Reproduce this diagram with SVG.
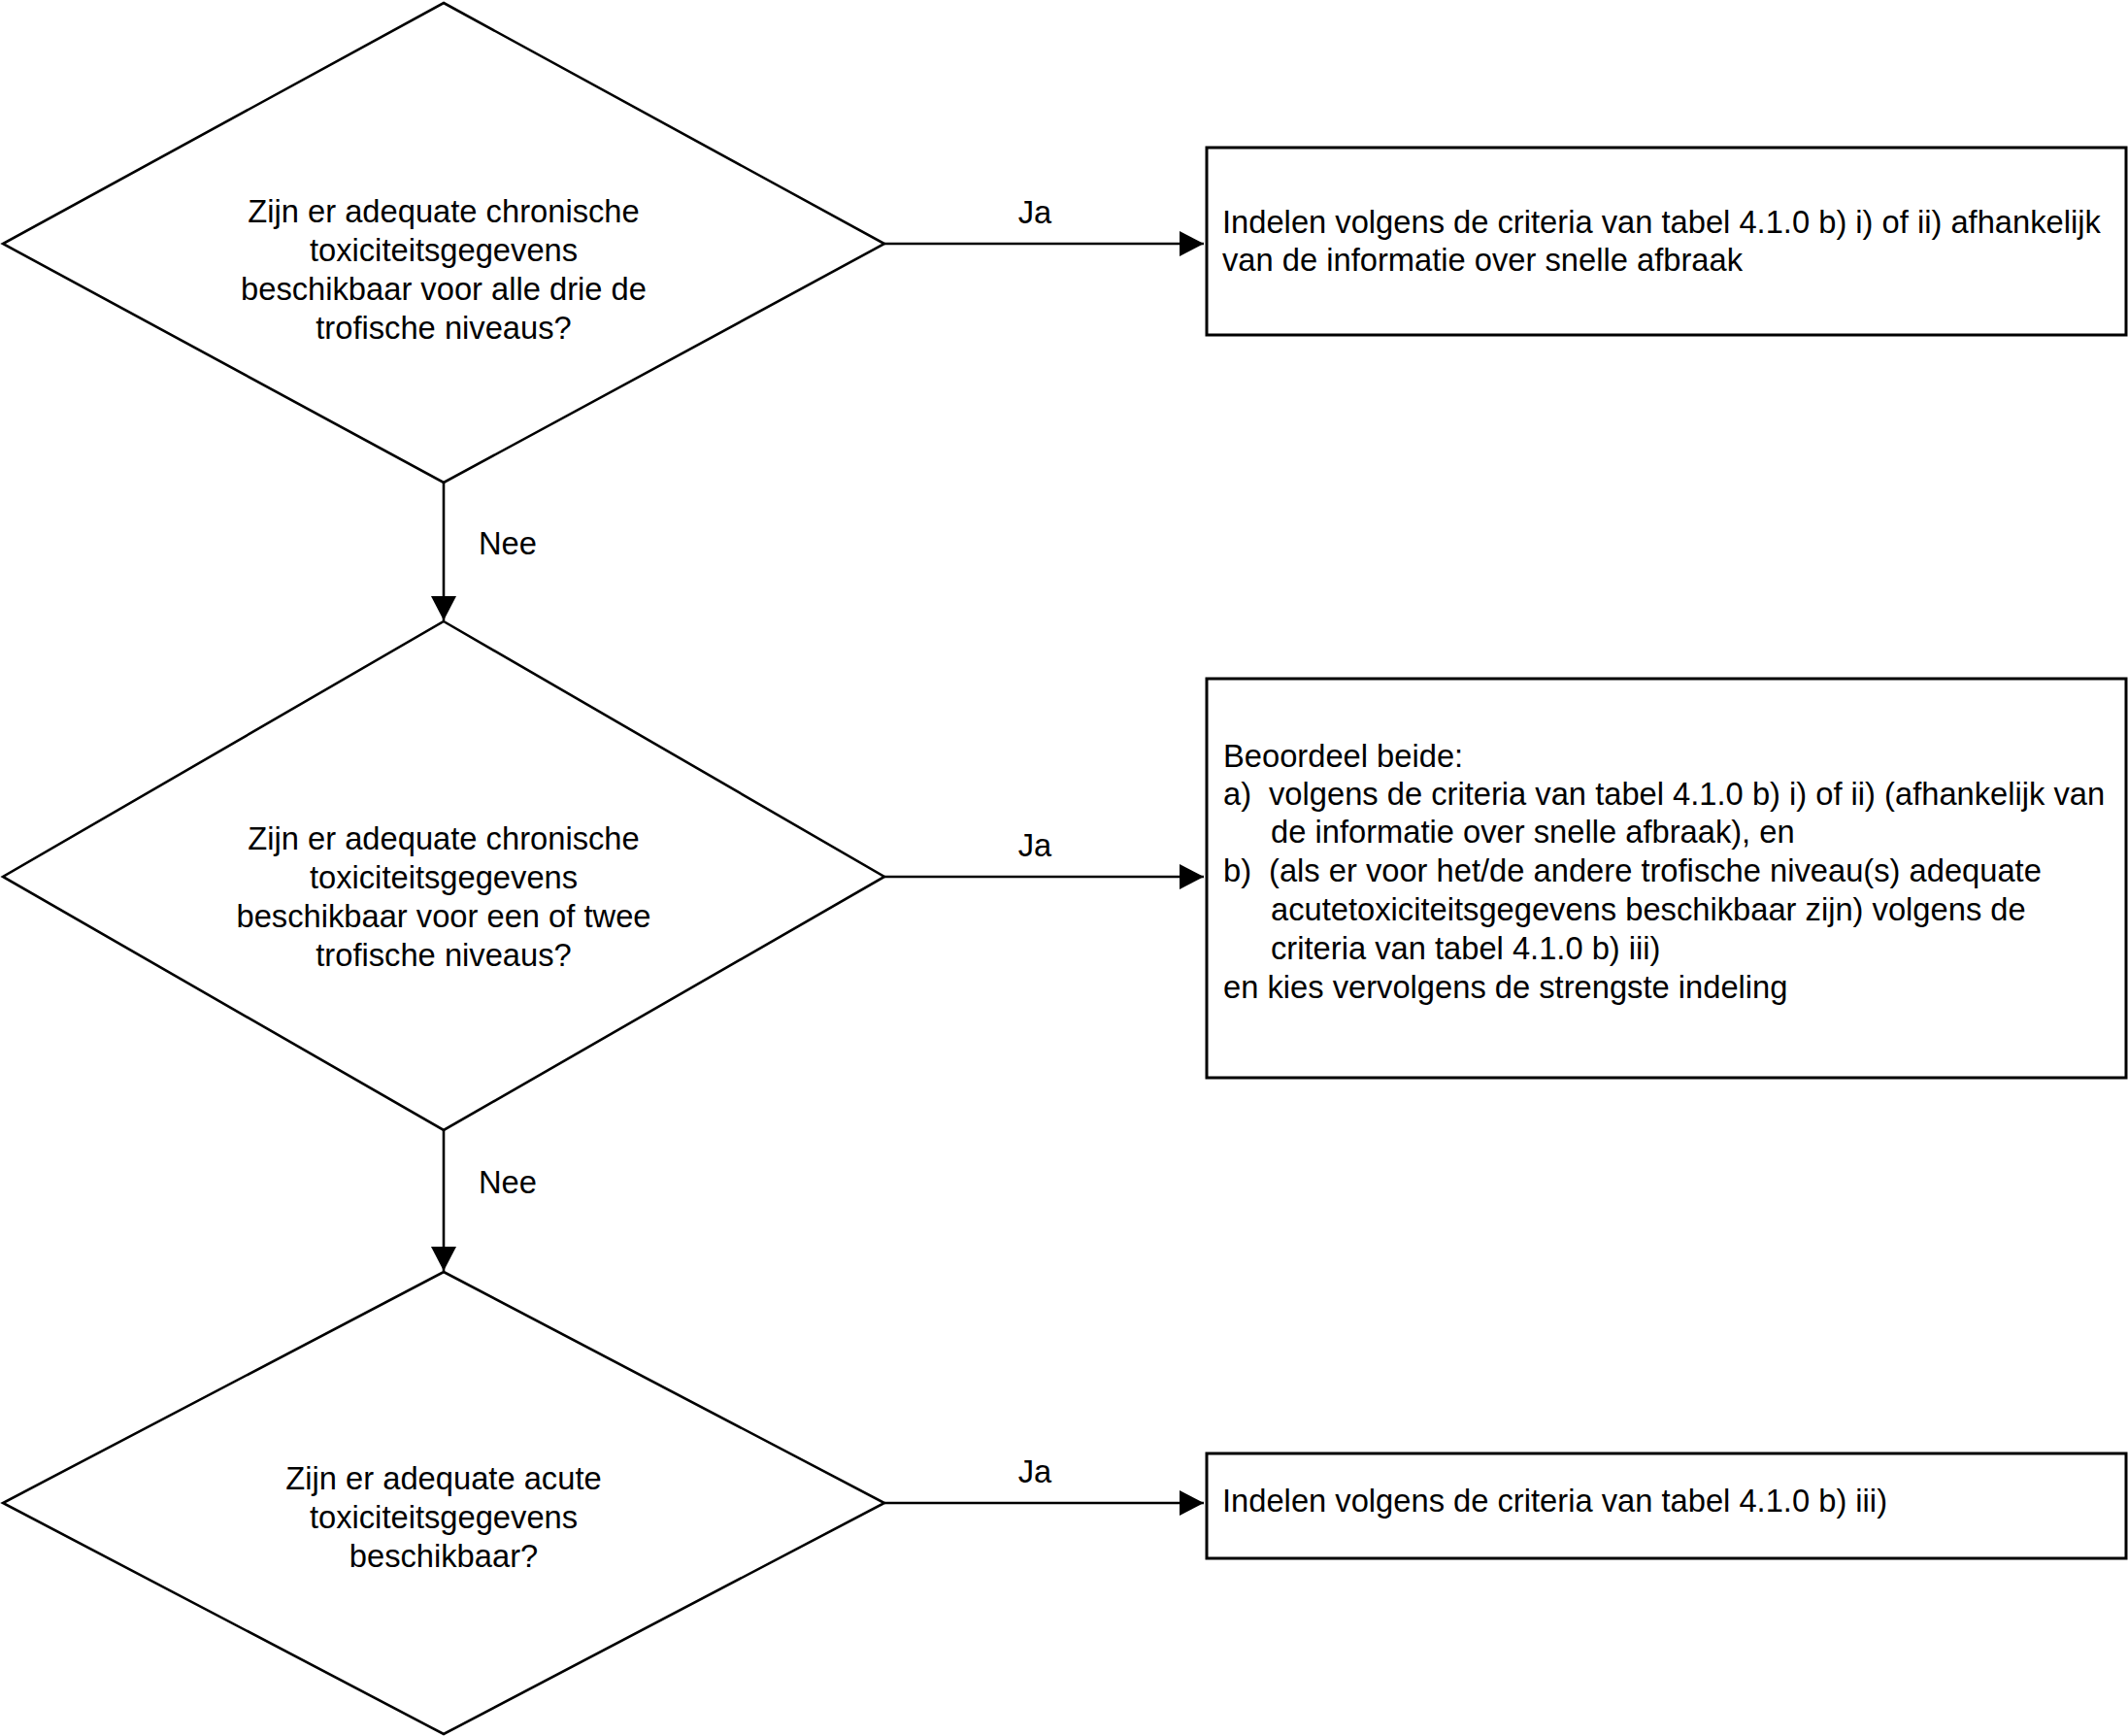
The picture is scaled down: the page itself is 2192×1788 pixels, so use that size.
<svg xmlns="http://www.w3.org/2000/svg" width="2192" height="1788" viewBox="0 0 2192 1788">
<style>
.shape{fill:#fff;stroke:#000;stroke-width:2.6}
.box{fill:#fff;stroke:#000;stroke-width:3}
.t{font-family:"Liberation Sans",Arial,sans-serif;font-size:32.7px;fill:#000}
.c{text-anchor:middle}
.conn{stroke:#000;stroke-width:2.6;fill:none}
</style>
<defs>
<marker id="arr" markerUnits="userSpaceOnUse" markerWidth="28" markerHeight="28" refX="25" refY="13" orient="auto">
<path d="M0,0 L25,13 L0,26 Z" fill="#000"/>
</marker>
</defs>
<rect width="2192" height="1788" fill="#fff"/>
<g id="connectors">
<line class="conn" x1="911" y1="251" x2="1240" y2="251" marker-end="url(#arr)"/>
<text class="t c" x="1066" y="230">Ja</text>
<line class="conn" x1="911" y1="903" x2="1240" y2="903" marker-end="url(#arr)"/>
<text class="t c" x="1066" y="882">Ja</text>
<line class="conn" x1="911" y1="1548" x2="1240" y2="1548" marker-end="url(#arr)"/>
<text class="t c" x="1066" y="1527">Ja</text>
<line class="conn" x1="457" y1="497" x2="457" y2="639" marker-end="url(#arr)"/>
<text class="t" x="493" y="571">Nee</text>
<line class="conn" x1="457" y1="1164" x2="457" y2="1309" marker-end="url(#arr)"/>
<text class="t" x="493" y="1229">Nee</text>
</g>
<g id="d1">
<polygon class="shape" points="457,3 911,251 457,497 3,251"/>
<text class="t c" x="457" y="229">Zijn er adequate chronische</text>
<text class="t c" x="457" y="269">toxiciteitsgegevens</text>
<text class="t c" x="457" y="309">beschikbaar voor alle drie de</text>
<text class="t c" x="457" y="349">trofische niveaus?</text>
</g>
<g id="d2">
<polygon class="shape" points="457,640 911,903 457,1164 3,903"/>
<text class="t c" x="457" y="875">Zijn er adequate chronische</text>
<text class="t c" x="457" y="915">toxiciteitsgegevens</text>
<text class="t c" x="457" y="955">beschikbaar voor een of twee</text>
<text class="t c" x="457" y="995">trofische niveaus?</text>
</g>
<g id="d3">
<polygon class="shape" points="457,1310 911,1548 457,1786 3,1548"/>
<text class="t c" x="457" y="1534">Zijn er adequate acute</text>
<text class="t c" x="457" y="1574">toxiciteitsgegevens</text>
<text class="t c" x="457" y="1614">beschikbaar?</text>
</g>
<g id="b1">
<rect class="box" x="1243" y="152" width="947" height="193"/>
<text class="t" x="1259" y="240">Indelen volgens de criteria van tabel 4.1.0 b) i) of ii) afhankelijk</text>
<text class="t" x="1259" y="279">van de informatie over snelle afbraak</text>
</g>
<g id="b2">
<rect class="box" x="1243" y="699" width="947" height="411"/>
<text class="t" x="1260" y="790">Beoordeel beide:</text>
<text class="t" x="1260" y="829">a)</text>
<text class="t" x="1307" y="829">volgens de criteria van tabel 4.1.0 b) i) of ii) (afhankelijk van</text>
<text class="t" x="1309" y="868">de informatie over snelle afbraak), en</text>
<text class="t" x="1260" y="908">b)</text>
<text class="t" x="1307" y="908">(als er voor het/de andere trofische niveau(s) adequate</text>
<text class="t" x="1309" y="948">acutetoxiciteitsgegevens beschikbaar zijn) volgens de</text>
<text class="t" x="1309" y="988">criteria van tabel 4.1.0 b) iii)</text>
<text class="t" x="1260" y="1028">en kies vervolgens de strengste indeling</text>
</g>
<g id="b3">
<rect class="box" x="1243" y="1497" width="947" height="108"/>
<text class="t" x="1259" y="1557">Indelen volgens de criteria van tabel 4.1.0 b) iii)</text>
</g>
</svg>
